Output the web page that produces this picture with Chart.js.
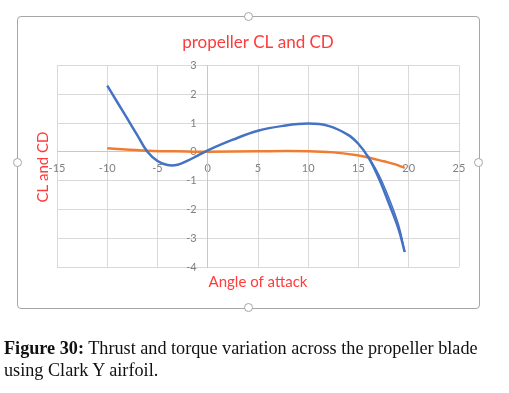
<!DOCTYPE html>
<html>
<head>
<meta charset="utf-8">
<script src="https://cdn.jsdelivr.net/npm/chart.js@4"></script>
<style>
  html, body { margin: 0; padding: 0; background: #fff; }
  #page { position: relative; width: 509px; height: 393px; overflow: hidden; }
  #frame { position: absolute; left: 17px; top: 16px; width: 461px; height: 291px; border: 1.5px solid #a6a6a6; border-radius: 4px; }
  .handle { position: absolute; width: 7px; height: 7px; border: 1.5px solid #a6a6a6; border-radius: 50%; background: #fff; }
  #chart { position: absolute; left: 0; top: 0; }
  #caption { position: absolute; left: 4px; top: 338px; width: 486px; font-family: "Liberation Serif", serif; font-size: 18.2px; line-height: 21.5px; color: #111; }
</style>
</head>
<body>
<div id="page">
  <div id="frame"></div>
  <div class="handle" style="left:244px; top:12px;"></div>
  <div class="handle" style="left:244px; top:303px;"></div>
  <div class="handle" style="left:13px; top:158px;"></div>
  <div class="handle" style="left:474px; top:158px;"></div>
  <canvas id="chart" width="509" height="393"></canvas>
  <div id="caption"><b>Figure 30:</b> Thrust and torque variation across the propeller blade using Clark Y airfoil.</div>
</div>
<script>
// lift coefficient vs angle of attack
var clAngle = [-10, -9, -8, -7, -6, -5, -4, -3, -2, -1, 0, 2.5, 5, 7.5, 10, 12, 14, 15, 16, 17, 18, 19, 19.6];
var clValue = [2.3, 1.72, 1.15, 0.57, 0.0, -0.32, -0.46, -0.45, -0.31, -0.13, 0.05, 0.42, 0.73, 0.9, 0.98, 0.9, 0.58, 0.27, -0.2, -0.9, -1.77, -2.7, -3.48];

// second pass of the lift curve near stall (the doubled strand)
var clAngle2 = [15.9, 17, 18, 19, 19.6];
var clValue2 = [-0.12, -0.78, -1.58, -2.55, -3.48];

// drag coefficient vs angle of attack
var cdAngle = [-10, -6, -2, 0, 5, 10, 12.5, 15, 16, 17.5, 18.5, 19.6];
var cdValue = [0.12, 0.04, 0.01, 0.0, 0.02, 0.02, -0.02, -0.13, -0.2, -0.33, -0.42, -0.56];

var xTicks = [-15, -10, -5, 0, 5, 10, 15, 20, 25];
var yTicks = [-4, -3, -2, -1, 0, 1, 2, 3];

var red = '#ff3b3b';
var blue = '#4472c4';

function points(xs, ys) {
	return xs.map(function(x, i) { return {x: x, y: ys[i]}; });
}

// axis titles sit outside the scale boxes since the axes cross at 0
var axisTitles = {
	id: 'axisTitles',
	afterDraw: function(chart) {
		var ctx = chart.ctx;
		ctx.save();
		ctx.fillStyle = red;
		ctx.font = '15px Lato';
		ctx.textAlign = 'center';
		ctx.textBaseline = 'middle';
		ctx.fillText('Angle of attack', 258, 282);
		ctx.translate(43, 167);
		ctx.rotate(-Math.PI / 2);
		ctx.fillText('CL and CD', 0, 0);
		ctx.restore();
	}
};

new Chart(document.getElementById('chart').getContext('2d'), {
	type: 'line',
	data: {
		datasets: [{
			label: 'CL',
			data: points(clAngle, clValue),
			borderColor: blue,
			borderWidth: 2.5,
			pointRadius: 0,
			tension: 0.4,
			fill: false
		}, {
			label: 'CL (2)',
			data: points(clAngle2, clValue2),
			borderColor: blue,
			borderWidth: 1.5,
			pointRadius: 0,
			tension: 0.4,
			fill: false
		}, {
			label: 'CD',
			data: points(cdAngle, cdValue),
			borderColor: '#ed7d31',
			borderWidth: 2.5,
			pointRadius: 0,
			tension: 0.4,
			fill: false
		}]
	},
	options: {
		responsive: false,
		animation: false,
		layout: { padding: { left: 57, right: 50, top: 20, bottom: 126 } },
		plugins: {
			legend: { display: false },
			tooltip: { enabled: false },
			title: {
				display: true,
				text: 'propeller CL and CD',
				color: red,
				font: { family: 'Lato', size: 17, weight: 'normal' },
				padding: { top: 12, bottom: 13 }
			}
		},
		scales: {
			x: {
				type: 'linear',
				min: xTicks[0],
				max: xTicks[xTicks.length - 1],
				position: { y: 0 },
				afterBuildTicks: function(s) { s.ticks = xTicks.map(function(v) { return {value: v}; }); },
				grid: { color: '#d9d9d9', drawTicks: false },
				border: { color: '#c8c8c8' },
				ticks: { color: '#808080', font: { family: 'Lato', size: 11 }, padding: 10, maxRotation: 0 }
			},
			y: {
				type: 'linear',
				min: yTicks[0],
				max: yTicks[yTicks.length - 1],
				position: { x: 0 },
				afterBuildTicks: function(s) { s.ticks = yTicks.map(function(v) { return {value: v}; }); },
				grid: { color: '#d9d9d9', drawTicks: false },
				border: { color: '#c8c8c8' },
				// labels of a value-positioned axis get no padding, so pad with en spaces
				ticks: {
					color: '#808080',
					font: { family: 'Lato', size: 11 },
					callback: function(v) { return v + '\u2002\u2002'; }
				}
			}
		}
	},
	plugins: [axisTitles]
});
</script>
</body>
</html>
